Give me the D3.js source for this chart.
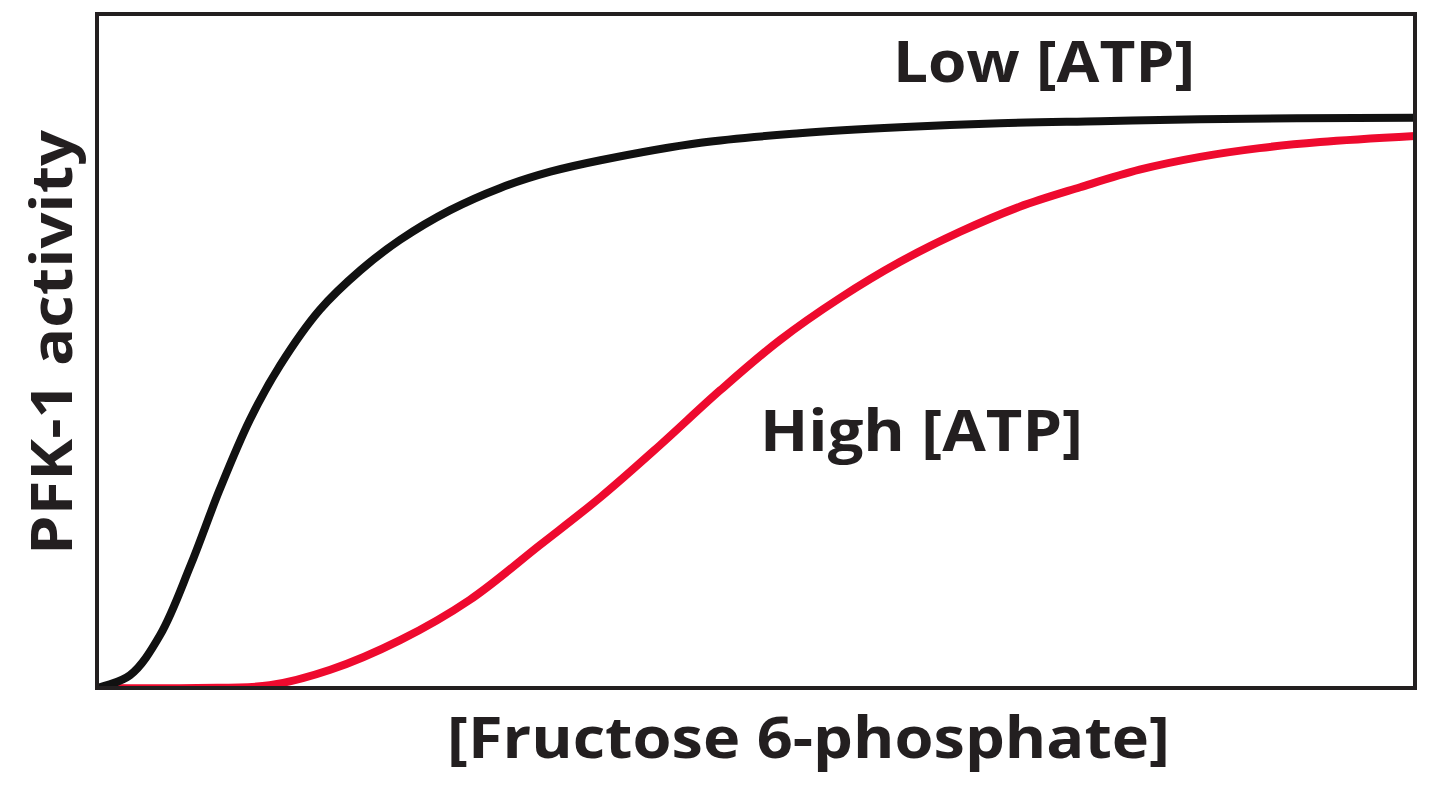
<!DOCTYPE html>
<html>
<head>
<meta charset="utf-8">
<script src="https://cdn.jsdelivr.net/npm/d3@7"></script>
<style>
  html, body { margin: 0; padding: 0; background: #fff; }
  svg { display: block; }
  text { font-family: "Open Sans", "Noto Sans", sans-serif; font-weight: 700; fill: #231f20; }
</style>
</head>
<body>
<div id="chart"></div>
<script>
// [Fructose 6-phosphate], arbitrary units 0-100
const lowATP_x = [0, 2.5, 4.8, 7.1, 9.3, 11.6, 13.9, 16.9, 20.0, 23.0, 26.8, 30.6, 34.4, 38.2, 45.8, 53.3, 60.9, 68.5, 76.1, 83.7, 100];
// PFK-1 activity, arbitrary units 0-100
const lowATP_y = [0, 1.9, 7.9, 18.2, 29.4, 39.8, 47.9, 56.1, 62.0, 66.5, 70.9, 74.2, 76.6, 78.3, 80.9, 82.3, 83.2, 83.8, 84.1, 84.4, 84.6];

const highATP_x = [0, 7.6, 13.1, 17.7, 23.0, 28.3, 33.6, 38.2, 42.7, 47.3, 51.8, 56.4, 60.9, 65.5, 70.0, 74.6, 79.1, 83.7, 88.2, 92.8, 100];
const highATP_y = [0, 0, 0.4, 2.7, 7.1, 13.1, 21.2, 28.3, 36.0, 44.2, 51.6, 57.9, 63.2, 67.7, 71.4, 74.3, 76.9, 78.8, 80.1, 81.0, 81.9];

const seriesNames = ["Low [ATP]", "High [ATP]"];
const xTitle = "[Fructose 6-phosphate]";
const yTitle = "PFK-1 activity";

// set the dimensions and margins of the graph
const W = 1440, H = 794;
const margin = {top: 14, right: 25, bottom: 106, left: 97},
    width = W - margin.left - margin.right,
    height = H - margin.top - margin.bottom;

const svg = d3.select("#chart")
  .append("svg")
    .attr("width", W)
    .attr("height", H);

const x = d3.scaleLinear().domain([0, 100]).range([margin.left, margin.left + width]);
const y = d3.scaleLinear().domain([0, 100]).range([margin.top + height, margin.top]);

svg.append("clipPath").attr("id", "plot")
  .append("rect")
    .attr("x", x(0)).attr("y", y(100))
    .attr("width", x(100) - x(0)).attr("height", y(0) - y(100));

const line = d3.line()
  .x(d => x(d[0]))
  .y(d => y(d[1]))
  .curve(d3.curveCatmullRom.alpha(0.5));

const low = lowATP_x.map((v, i) => [v, lowATP_y[i]]);
const high = highATP_x.map((v, i) => [v, highATP_y[i]]);

const g = svg.append("g").attr("clip-path", "url(#plot)");

g.append("path")
  .datum(high)
  .attr("d", line)
  .attr("fill", "none")
  .attr("stroke", "#ee0a2e")
  .attr("stroke-width", 8);

g.append("path")
  .datum(low)
  .attr("d", line)
  .attr("fill", "none")
  .attr("stroke", "#111")
  .attr("stroke-width", 8);

// frame
svg.append("rect")
  .attr("x", x(0)).attr("y", y(100))
  .attr("width", x(100) - x(0)).attr("height", y(0) - y(100))
  .attr("fill", "none")
  .attr("stroke", "#231f20")
  .attr("stroke-width", 4);

// series labels
svg.append("text")
  .attr("x", 893).attr("y", 82)
  .attr("font-size", 58)
  .attr("textLength", 302).attr("lengthAdjust", "spacingAndGlyphs")
  .text(seriesNames[0]);

svg.append("text")
  .attr("x", 760).attr("y", 451)
  .attr("font-size", 58)
  .attr("textLength", 323).attr("lengthAdjust", "spacingAndGlyphs")
  .text(seriesNames[1]);

// axis titles
svg.append("text")
  .attr("x", 447).attr("y", 758)
  .attr("font-size", 58)
  .attr("textLength", 723).attr("lengthAdjust", "spacingAndGlyphs")
  .text(xTitle);

svg.append("text")
  .attr("transform", "translate(72, 555) rotate(-90)")
  .attr("font-size", 58)
  .attr("textLength", 425).attr("lengthAdjust", "spacingAndGlyphs")
  .text(yTitle);
</script>
</body>
</html>
